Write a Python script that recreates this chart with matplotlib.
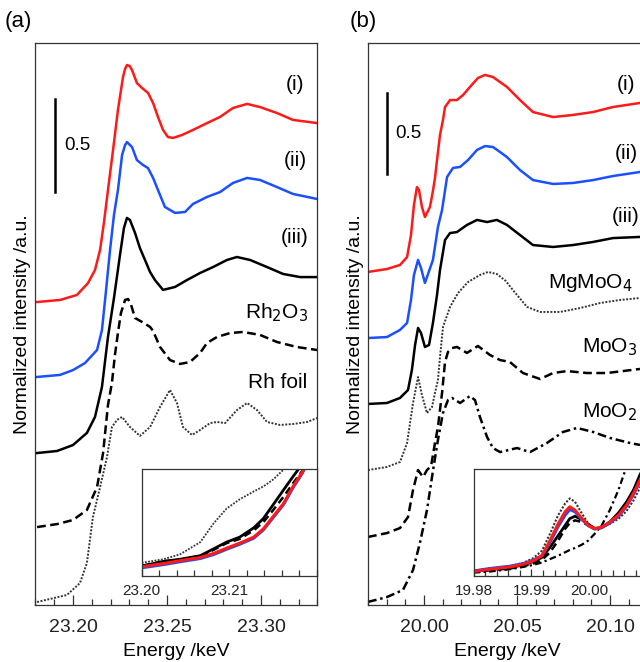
import matplotlib
matplotlib.use("Agg")
import matplotlib.pyplot as plt
from matplotlib.ticker import MultipleLocator, FixedLocator, FormatStrFormatter

plt.rcParams['font.family'] = ['Liberation Sans', 'DejaVu Sans']

# ---------------- panel (a): Rh K-edge ----------------
rh_red_e = [23.1809, 23.1931, 23.2021, 23.2080, 23.2117, 23.2144, 23.2165, 23.2186, 23.2213, 23.2239,
            23.2266, 23.2277, 23.2287, 23.2301, 23.2314, 23.2340, 23.2367, 23.2399, 23.2426, 23.2452,
            23.2479, 23.2505, 23.2532, 23.2580, 23.2638, 23.2713, 23.2782, 23.2851, 23.2926, 23.2995,
            23.3085, 23.3170, 23.3298]
rh_red = [1.629, 1.640, 1.667, 1.731, 1.801, 1.909, 2.059, 2.231, 2.446, 2.661,
          2.839, 2.882, 2.903, 2.898, 2.876, 2.806, 2.780, 2.753, 2.699, 2.624,
          2.554, 2.516, 2.511, 2.527, 2.554, 2.591, 2.624, 2.672, 2.694, 2.677,
          2.645, 2.608, 2.591]

rh_blue_e = [23.1809, 23.1931, 23.2000, 23.2064, 23.2128, 23.2154, 23.2176, 23.2197, 23.2218, 23.2239,
             23.2261, 23.2277, 23.2287, 23.2314, 23.2340, 23.2372, 23.2399, 23.2426, 23.2452, 23.2489,
             23.2543, 23.2596, 23.2638, 23.2713, 23.2782, 23.2851, 23.2926, 23.2995, 23.3085, 23.3170,
             23.3298]
rh_blue = [1.226, 1.237, 1.263, 1.301, 1.371, 1.478, 1.694, 1.909, 2.097, 2.231,
           2.419, 2.473, 2.489, 2.462, 2.392, 2.366, 2.349, 2.296, 2.231, 2.140,
           2.108, 2.113, 2.156, 2.194, 2.220, 2.269, 2.296, 2.285, 2.247, 2.210,
           2.183]

rh_black_e = [23.1809, 23.1915, 23.2000, 23.2074, 23.2117, 23.2154, 23.2186, 23.2218, 23.2250, 23.2271,
              23.2287, 23.2303, 23.2330, 23.2356, 23.2383, 23.2410, 23.2436, 23.2479, 23.2543, 23.2606,
              23.2676, 23.2745, 23.2819, 23.2872, 23.2942, 23.3032, 23.3117, 23.3208, 23.3298]
rh_black = [0.817, 0.828, 0.860, 0.925, 1.011, 1.172, 1.441, 1.651, 1.882, 2.027,
            2.081, 2.070, 2.000, 1.919, 1.855, 1.790, 1.747, 1.694, 1.710, 1.747,
            1.785, 1.817, 1.855, 1.871, 1.855, 1.817, 1.780, 1.763, 1.763]

rh2o3_e = [23.1809, 23.1915, 23.2000, 23.2074, 23.2128, 23.2160, 23.2186, 23.2207, 23.2223, 23.2239,
           23.2255, 23.2277, 23.2293, 23.2309, 23.2330, 23.2367, 23.2410, 23.2426, 23.2463, 23.2516,
           23.2569, 23.2622, 23.2676, 23.2713, 23.2766, 23.2835, 23.2904, 23.2995, 23.3085, 23.3191,
           23.3298]
rh2o3 = [0.419, 0.435, 0.457, 0.511, 0.634, 0.817, 1.075, 1.194, 1.344, 1.462,
         1.570, 1.640, 1.645, 1.613, 1.543, 1.522, 1.495, 1.473, 1.387, 1.317,
         1.296, 1.306, 1.355, 1.409, 1.441, 1.462, 1.468, 1.452, 1.414, 1.387,
         1.371]

rhfoil_e = [23.1809, 23.1968, 23.2037, 23.2074, 23.2106, 23.2144, 23.2181, 23.2207, 23.2234, 23.2261,
            23.2303, 23.2356, 23.2410, 23.2463, 23.2516, 23.2553, 23.2585, 23.2633, 23.2676, 23.2729,
            23.2766, 23.2809, 23.2872, 23.2926, 23.2979, 23.3032, 23.3101, 23.3170, 23.3245, 23.3298]
rhfoil = [0.016, 0.054, 0.118, 0.226, 0.473, 0.634, 0.796, 0.957, 0.995, 1.011,
          0.957, 0.909, 0.957, 1.065, 1.156, 1.086, 0.957, 0.914, 0.941, 0.978,
          0.984, 0.978, 1.048, 1.086, 1.048, 0.984, 0.968, 0.973, 0.984, 1.005]

# inset (a): pre-edge region, no offsets
ins_a_e = [23.2000, 23.2025, 23.2044, 23.2067, 23.2082, 23.2097, 23.2112, 23.2128, 23.2139, 23.2150,
           23.2162, 23.2173, 23.2183, 23.2195]
ins_a_red = [0.026, 0.035, 0.043, 0.052, 0.063, 0.078, 0.092, 0.109, 0.132, 0.166, 0.203, 0.251, 0.289, 0.346]
ins_a_blue = [0.023, 0.032, 0.040, 0.049, 0.060, 0.075, 0.089, 0.106, 0.129, 0.163, 0.200, 0.248, 0.286, 0.343]
ins_a_black = [0.028, 0.041, 0.047, 0.057, 0.076, 0.095, 0.109, 0.135, 0.161, 0.199, 0.241, 0.279, 0.312, 0.360]
ins_a_rh2o3 = [0.028, 0.041, 0.046, 0.056, 0.073, 0.092, 0.104, 0.128, 0.151, 0.184, 0.222, 0.260, 0.293, 0.340]
ins_a_foil = [0.037, 0.047, 0.061, 0.095, 0.147, 0.189, 0.215, 0.237, 0.251, 0.270, 0.298, 0.327, 0.360, 0.400]
ins_a_ticks = [23.20, 23.21]

# ---------------- panel (b): Mo K-edge ----------------
mo_red_e = [19.9699, 19.9801, 19.9871, 19.9909, 19.9930, 19.9946, 19.9962, 19.9973, 19.9989, 20.0005,
            20.0032, 20.0048, 20.0059, 20.0070, 20.0086, 20.0102, 20.0113, 20.0129, 20.0140, 20.0177,
            20.0210, 20.0247, 20.0290, 20.0328, 20.0371, 20.0409, 20.0446, 20.0516, 20.0586, 20.0694,
            20.0801, 20.0909, 20.1016, 20.1161]
mo_red = [2.056, 2.074, 2.099, 2.148, 2.284, 2.469, 2.580, 2.562, 2.457, 2.395,
          2.457, 2.556, 2.636, 2.747, 2.901, 2.994, 3.074, 3.099, 3.117, 3.117,
          3.148, 3.198, 3.253, 3.272, 3.259, 3.228, 3.198, 3.117, 3.043, 3.012,
          3.025, 3.043, 3.074, 3.099]

mo_blue_e = [19.9699, 19.9801, 19.9871, 19.9909, 19.9930, 19.9946, 19.9968, 19.9984, 20.0005, 20.0048,
             20.0075, 20.0097, 20.0124, 20.0156, 20.0194, 20.0237, 20.0285, 20.0328, 20.0371, 20.0409,
             20.0446, 20.0516, 20.0586, 20.0694, 20.0801, 20.0909, 20.1016, 20.1161]
mo_blue = [1.648, 1.654, 1.698, 1.741, 1.883, 2.037, 2.130, 2.080, 1.988, 2.130,
           2.333, 2.438, 2.642, 2.698, 2.704, 2.747, 2.809, 2.833, 2.827, 2.796,
           2.765, 2.685, 2.623, 2.599, 2.605, 2.623, 2.648, 2.673]

mo_black_e = [19.9699, 19.9801, 19.9871, 19.9914, 19.9935, 19.9952, 19.9968, 19.9984, 20.0005, 20.0027,
              20.0048, 20.0070, 20.0086, 20.0113, 20.0140, 20.0177, 20.0231, 20.0285, 20.0339, 20.0392,
              20.0446, 20.0516, 20.0586, 20.0694, 20.0801, 20.0909, 20.1016, 20.1161]
mo_black = [1.241, 1.247, 1.278, 1.327, 1.451, 1.605, 1.710, 1.679, 1.593, 1.605,
            1.741, 1.914, 2.068, 2.253, 2.296, 2.302, 2.346, 2.377, 2.364, 2.377,
            2.346, 2.284, 2.222, 2.210, 2.222, 2.241, 2.265, 2.272]

mgmoo4_e = [19.9699, 19.9801, 19.9871, 19.9909, 19.9941, 19.9968, 19.9989, 20.0016, 20.0043, 20.0059,
            20.0075, 20.0086, 20.0102, 20.0140, 20.0183, 20.0237, 20.0301, 20.0344, 20.0392, 20.0440,
            20.0478, 20.0554, 20.0624, 20.0731, 20.0839, 20.0946, 20.1054, 20.1161]
mgmoo4 = [0.833, 0.852, 0.883, 1.000, 1.247, 1.407, 1.296, 1.185, 1.222, 1.309,
          1.389, 1.531, 1.716, 1.840, 1.926, 1.994, 2.037, 2.056, 2.043, 2.000,
          1.944, 1.840, 1.809, 1.809, 1.833, 1.864, 1.883, 1.895]

moo3_e = [19.9699, 19.9801, 19.9871, 19.9914, 19.9941, 19.9968, 19.9995, 20.0016, 20.0038, 20.0059,
          20.0075, 20.0097, 20.0113, 20.0129, 20.0151, 20.0177, 20.0231, 20.0290, 20.0355, 20.0409,
          20.0462, 20.0532, 20.0624, 20.0694, 20.0769, 20.0876, 20.0984, 20.1161]
moo3 = [0.420, 0.444, 0.475, 0.543, 0.710, 0.833, 0.790, 0.833, 0.858, 1.000,
        1.099, 1.309, 1.500, 1.562, 1.586, 1.593, 1.556, 1.599, 1.543, 1.512,
        1.500, 1.432, 1.395, 1.432, 1.444, 1.432, 1.432, 1.457]

moo2_e = [19.9699, 19.9801, 19.9887, 19.9941, 19.9978, 20.0016, 20.0048, 20.0075, 20.0102, 20.0129,
          20.0151, 20.0194, 20.0247, 20.0274, 20.0301, 20.0339, 20.0371, 20.0409, 20.0500, 20.0570,
          20.0661, 20.0747, 20.0823, 20.0909, 20.1000, 20.1107, 20.1161]
moo2 = [0.019, 0.049, 0.093, 0.216, 0.383, 0.586, 0.827, 1.019, 1.185, 1.265,
        1.278, 1.247, 1.290, 1.265, 1.160, 1.037, 0.969, 0.944, 0.969, 0.944,
        1.000, 1.068, 1.093, 1.068, 1.031, 1.000, 0.988]

# inset (b): pre-edge peak region, no offsets
ins_b_e = [19.9800, 19.9828, 19.9863, 19.9886, 19.9903, 19.9918, 19.9932, 19.9946, 19.9958, 19.9966,
           19.9975, 19.9987, 19.9998, 20.0009, 20.0021, 20.0035, 20.0050, 20.0064, 20.0076, 20.0087, 20.0110]
ins_b_red = [0.025, 0.038, 0.051, 0.066, 0.085, 0.114, 0.199, 0.293, 0.360, 0.388, 0.369,
             0.322, 0.284, 0.265, 0.274, 0.303, 0.341, 0.397, 0.464, 0.539, 0.690]
ins_b_blue = [0.028, 0.042, 0.055, 0.070, 0.089, 0.114, 0.189, 0.278, 0.341, 0.373, 0.360,
              0.318, 0.282, 0.263, 0.271, 0.297, 0.335, 0.392, 0.458, 0.530, 0.681]
ins_b_black = [0.025, 0.036, 0.047, 0.062, 0.081, 0.104, 0.161, 0.227, 0.284, 0.322, 0.335,
               0.316, 0.290, 0.267, 0.271, 0.303, 0.354, 0.416, 0.483, 0.568, 0.710]
ins_b_moo3 = [0.023, 0.032, 0.042, 0.055, 0.070, 0.091, 0.133, 0.199, 0.265, 0.297, 0.312,
              0.303, 0.284, 0.265, 0.271, 0.297, 0.341, 0.403, 0.469, 0.549, 0.690]
ins_b_mgmoo4 = [0.028, 0.042, 0.055, 0.074, 0.100, 0.142, 0.237, 0.341, 0.407, 0.435, 0.416,
                0.350, 0.293, 0.265, 0.271, 0.293, 0.320, 0.365, 0.425, 0.495, 0.620]
ins_b_moo2 = [0.019, 0.025, 0.038, 0.051, 0.062, 0.076, 0.095, 0.114, 0.133, 0.146, 0.157,
              0.176, 0.199, 0.237, 0.284, 0.369, 0.483, 0.615, 0.710, 0.780, 0.900]
ins_b_ticks = [19.98, 19.99, 20.00]

RED = '#ff1a1a'
BLUE = '#1a50ff'
SPINE = '#333333'
DOTS = (0, (1, 0.8))
DASH = (0, (3.5, 1.8))
DASHDOT = (0, (3.5, 1.5, 1, 1.5))


def style_axes(ax, major, minor, labelsize, pad, major_len, minor_len):
    for s in ax.spines.values():
        s.set_color(SPINE)
        s.set_linewidth(0.9)
    if isinstance(major, list):
        ax.xaxis.set_major_locator(FixedLocator(major))
    else:
        ax.xaxis.set_major_locator(MultipleLocator(major))
    ax.xaxis.set_minor_locator(MultipleLocator(minor))
    ax.xaxis.set_major_formatter(FormatStrFormatter('%.2f'))
    ax.tick_params(axis='x', which='both', direction='in', top=False, colors=SPINE,
                   labelcolor='#222222', labelsize=labelsize, pad=pad, width=0.9)
    ax.tick_params(axis='x', which='major', length=major_len)
    ax.tick_params(axis='x', which='minor', length=minor_len)
    ax.set_yticks([])


fig = plt.figure(figsize=(6.4, 6.62), dpi=100)

# ----- (a) -----
ax_a = fig.add_axes([35.4 / 640, 57 / 662, 282 / 640, 562 / 662])
ax_a.plot(rh_red_e, rh_red, color=RED, lw=1.8)
ax_a.plot(rh_blue_e, rh_blue, color=BLUE, lw=1.8)
ax_a.plot(rh_black_e, rh_black, color='black', lw=1.8)
ax_a.plot(rh2o3_e, rh2o3, color='black', lw=1.8, ls=DASH)
ax_a.plot(rhfoil_e, rhfoil, color='#333333', lw=1.4, ls=DOTS)
ax_a.set_xlim(23.18, 23.33)
ax_a.set_ylim(0, 562 / 186)
style_axes(ax_a, 0.05, 0.01, 14, 10, 7, 4)
ax_a.set_xlabel('Energy /keV', fontsize=14, labelpad=5)
ax_a.set_ylabel('Normalized intensity /a.u.', fontsize=14, labelpad=3)

ax_a.plot([23.1906, 23.1906], [2.220, 2.720], color='black', lw=1.8)
ax_a.text(23.1952, 2.47, '0.5', fontsize=13.5, va='center', ha='left')
ax_a.text(23.3181, 2.796, '(i)', fontsize=15, ha='center', va='center')
ax_a.text(23.3181, 2.392, '(ii)', fontsize=15, ha='center', va='center')
ax_a.text(23.3181, 1.978, '(iii)', fontsize=15, ha='center', va='center')
ax_a.text(23.3250, 1.57, r'Rh$_2$O$_3$', fontsize=15, ha='right', va='center')
ax_a.text(23.3245, 1.194, 'Rh foil', fontsize=15, ha='right', va='center')

ins_a = fig.add_axes([141.7 / 640, 86 / 662, 175 / 640, 107 / 662])
ins_a.plot(ins_a_e, ins_a_foil, color='#333333', lw=1.3, ls=DOTS)
ins_a.plot(ins_a_e, ins_a_black, color='black', lw=2.0)
ins_a.plot(ins_a_e, ins_a_rh2o3, color='black', lw=1.8, ls=(0, (3, 1.8)))
ins_a.plot(ins_a_e, ins_a_blue, color=BLUE, lw=2.2)
ins_a.plot(ins_a_e, ins_a_red, color=RED, lw=2.2)
ins_a.set_xlim(23.20, 23.22)
ins_a.set_ylim(0, 0.30)
style_axes(ins_a, ins_a_ticks, 0.002, 11, 6, 5, 4)

# ----- (b) -----
ax_b = fig.add_axes([368.2 / 640, 57 / 662, 279 / 640, 562 / 662])
ax_b.plot(mo_red_e, mo_red, color=RED, lw=1.8)
ax_b.plot(mo_blue_e, mo_blue, color=BLUE, lw=1.8)
ax_b.plot(mo_black_e, mo_black, color='black', lw=1.8)
ax_b.plot(mgmoo4_e, mgmoo4, color='#333333', lw=1.4, ls=DOTS)
ax_b.plot(moo3_e, moo3, color='black', lw=1.8, ls=DASH)
ax_b.plot(moo2_e, moo2, color='black', lw=1.8, ls=DASHDOT)
ax_b.set_xlim(19.97, 20.12)
ax_b.set_ylim(0, 562 / 162)
style_axes(ax_b, 0.05, 0.01, 14, 10, 7, 4)
ax_b.set_xlabel('Energy /keV', fontsize=14, labelpad=5)
ax_b.set_ylabel('Normalized intensity /a.u.', fontsize=14, labelpad=3)

ax_b.plot([19.9801, 19.9801], [2.660, 3.160], color='black', lw=1.8)
ax_b.text(19.9845, 2.91, '0.5', fontsize=13.5, va='center', ha='left')
ax_b.text(20.1086, 3.210, '(i)', fontsize=15, ha='center', va='center')
ax_b.text(20.1086, 2.790, '(ii)', fontsize=15, ha='center', va='center')
ax_b.text(20.1086, 2.401, '(iii)', fontsize=15, ha='center', va='center')
ax_b.text(20.0667, 1.99, r'MgMoO$_4$', fontsize=15, ha='left', va='center')
ax_b.text(20.0849, 1.59, r'MoO$_3$', fontsize=15, ha='left', va='center')
ax_b.text(20.0849, 1.19, r'MoO$_2$', fontsize=15, ha='left', va='center')

ins_b = fig.add_axes([473.5 / 640, 86 / 662, 174 / 640, 107 / 662])
ins_b.plot(ins_b_e, ins_b_moo2, color='black', lw=1.6, ls=(0, (3, 1.5, 1, 1.5)))
ins_b.plot(ins_b_e, ins_b_mgmoo4, color='#333333', lw=1.5, ls=DOTS)
ins_b.plot(ins_b_e, ins_b_moo3, color='black', lw=1.8, ls=(0, (3, 1.8)))
ins_b.plot(ins_b_e, ins_b_black, color='black', lw=2.0)
ins_b.plot(ins_b_e, ins_b_blue, color=BLUE, lw=2.2)
ins_b.plot(ins_b_e, ins_b_red, color=RED, lw=2.2)
ins_b.set_xlim(19.98, 20.01)
ins_b.set_ylim(0, 0.60)
style_axes(ins_b, ins_b_ticks, 0.002, 11, 6, 5, 4)

fig.text(5 / 640, 1 - 22 / 662, '(a)', fontsize=16, ha='left', va='center')
fig.text(350 / 640, 1 - 22 / 662, '(b)', fontsize=16, ha='left', va='center')

fig.savefig('out.png', dpi=100)
